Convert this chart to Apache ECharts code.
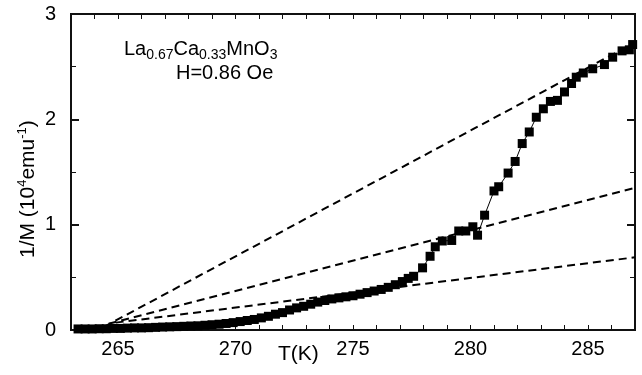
<!DOCTYPE html>
<html>
<head>
<meta charset="utf-8">
<script src="https://cdn.jsdelivr.net/npm/echarts@6/dist/echarts.min.js"></script>
<style>
  html, body { margin: 0; padding: 0; background: #fff; }
  #chart { width: 642px; height: 375px; }
</style>
</head>
<body>
<div id="chart"></div>
<script>
// temperature (K) and 1/M (10^4 emu^-1)
const temps = [
  263.3, 263.6, 263.9, 264.2, 264.5, 264.8, 265.1, 265.4, 265.7, 266.0,
  266.3, 266.6, 266.9, 267.2, 267.5, 267.8, 268.1, 268.4, 268.7, 269.0,
  269.3, 269.6, 269.9, 270.2, 270.5, 270.8, 271.1, 271.4, 271.7, 272.0,
  272.3, 272.6, 272.9, 273.2, 273.5, 273.8, 274.1, 274.4, 274.7, 275.0,
  275.3, 275.6, 275.9, 276.2, 276.5, 276.8, 277.1, 277.35,
  277.58, 277.96, 278.28, 278.5, 278.8, 279.2, 279.5, 279.8, 280.1, 280.3,
  280.6, 281.0, 281.2, 281.6, 281.9, 282.2, 282.5, 282.8, 283.1, 283.4,
  283.7, 284.0, 284.3, 284.5, 284.8, 285.2, 285.7, 286.05, 286.45, 286.76, 286.9
]
const invM = [
  0.01, 0.01, 0.01, 0.012, 0.012, 0.015, 0.015, 0.018, 0.02, 0.02,
  0.022, 0.025, 0.028, 0.03, 0.032, 0.035, 0.038, 0.04, 0.045, 0.05,
  0.055, 0.062, 0.07, 0.08, 0.09, 0.10, 0.115, 0.13, 0.15, 0.165,
  0.19, 0.21, 0.225, 0.245, 0.265, 0.28, 0.295, 0.305, 0.315, 0.325,
  0.34, 0.355, 0.37, 0.385, 0.405, 0.43, 0.46, 0.49,
  0.51, 0.59, 0.70, 0.79, 0.845, 0.85, 0.94, 0.94, 0.98, 0.90,
  1.09, 1.32, 1.36, 1.49, 1.60, 1.77, 1.88, 2.02, 2.10, 2.17,
  2.18, 2.26, 2.34, 2.40, 2.44, 2.48, 2.52, 2.59, 2.65, 2.66, 2.71
]

// dashed guide lines: [start, end] as [T, 1/M]
const fitLines = [
  [[264.4, 0.03], [287, 2.73]],
  [[264.6, 0.06], [287, 1.35]],
  [[264.9, 0.07], [287, 0.69]]
]

const xRange = [263, 287]
const yRange = [0, 3]
const labelStep = 5   // only every 5 K is labelled

const chart = echarts.init(document.getElementById('chart'))
const font = 'Liberation Sans, Arial, sans-serif'
const ink = '#111'   // near-black for the frame and ticks

const xAxisDef = (pos) => ({
  type: 'value',
  position: pos,
  min: xRange[0],
  max: xRange[1],
  interval: 1,
  axisLine: { show: true, onZero: false, lineStyle: { color: ink, width: 2 } },
  axisTick: { show: true, inside: true, length: 5, lineStyle: { color: ink, width: 1 } },
  axisLabel: {
    show: pos === 'bottom',
    margin: 9,
    color: '#000',
    fontSize: 20,
    fontFamily: font,
    formatter: v => (v % labelStep === 0 ? String(v) : '')
  },
  splitLine: { show: false }
})

const yAxisDef = (pos) => ({
  type: 'value',
  position: pos,
  min: yRange[0],
  max: yRange[1],
  interval: 1,
  axisLine: { show: true, onZero: false, lineStyle: { color: ink, width: 2 } },
  axisTick: { show: true, inside: true, length: 8, lineStyle: { color: ink, width: 2 } },
  minorTick: { show: true, splitNumber: 2, length: 5, lineStyle: { color: ink, width: 1 } },
  axisLabel: {
    show: pos === 'left',
    margin: 15,
    color: '#000',
    fontSize: 20,
    fontFamily: font
  },
  splitLine: { show: false }
})

const dashed = fitLines.map(seg => ({
  type: 'line',
  data: seg,
  symbol: 'none',
  silent: true,
  lineStyle: { color: '#000', width: 2, type: [8, 5] }
}))

// plot frame drawn through the scales as a fallback for the axis lines
const frameSeries = {
  type: 'line',
  data: [
    [xRange[0], yRange[0]], [xRange[1], yRange[0]],
    [xRange[1], yRange[1]], [xRange[0], yRange[1]], [xRange[0], yRange[0]]
  ],
  symbol: 'none',
  silent: true,
  clip: false,
  lineStyle: { color: ink, width: 2 }
}

const plainText = (size) => ({ color: '#000', fontSize: size, fontWeight: 'normal', fontFamily: font })

const option = {
  animation: false,
  grid: {
    left: 71, right: 7, top: 14, bottom: 45,
    outerBoundsMode: 'none',
    show: true, borderColor: ink, borderWidth: 2
  },
  title: [
    {
      left: 124,
      top: 37,
      padding: 0,
      text: 'La{s|0.67}Ca{s|0.33}MnO{s|3}',
      textStyle: {
        ...plainText(20),
        rich: { s: { fontSize: 14, fontFamily: font, color: '#000', padding: [11, 0, 0, 0] } }
      }
    },
    { left: 176, top: 63, padding: 0, text: 'H=0.86 Oe', textStyle: plainText(20) },
    { left: 278, top: 344, padding: 0, text: 'T(K)', textStyle: plainText(21) }
  ],
  graphic: [
    {
      type: 'text',
      x: 16,
      y: 258,
      rotation: Math.PI / 2,
      style: {
        text: '1/M (10{p|4}emu{p|-1})',
        font: '21px ' + font,
        fill: '#000',
        rich: {
          p: { fontSize: 13, fontFamily: font, fill: '#000', padding: [0, 0, 11, 0] }
        }
      }
    }
  ],
  xAxis: [xAxisDef('bottom'), xAxisDef('top')],
  yAxis: [yAxisDef('left'), yAxisDef('right')],
  series: [
    frameSeries,
    ...dashed,
    {
      type: 'line',
      data: temps.map((t, i) => [t, invM[i]]),
      symbol: 'rect',
      symbolSize: 9,
      itemStyle: { color: '#000' },
      lineStyle: { color: '#000', width: 1 }
    }
  ]
}

chart.setOption(option)
</script>
</body>
</html>
